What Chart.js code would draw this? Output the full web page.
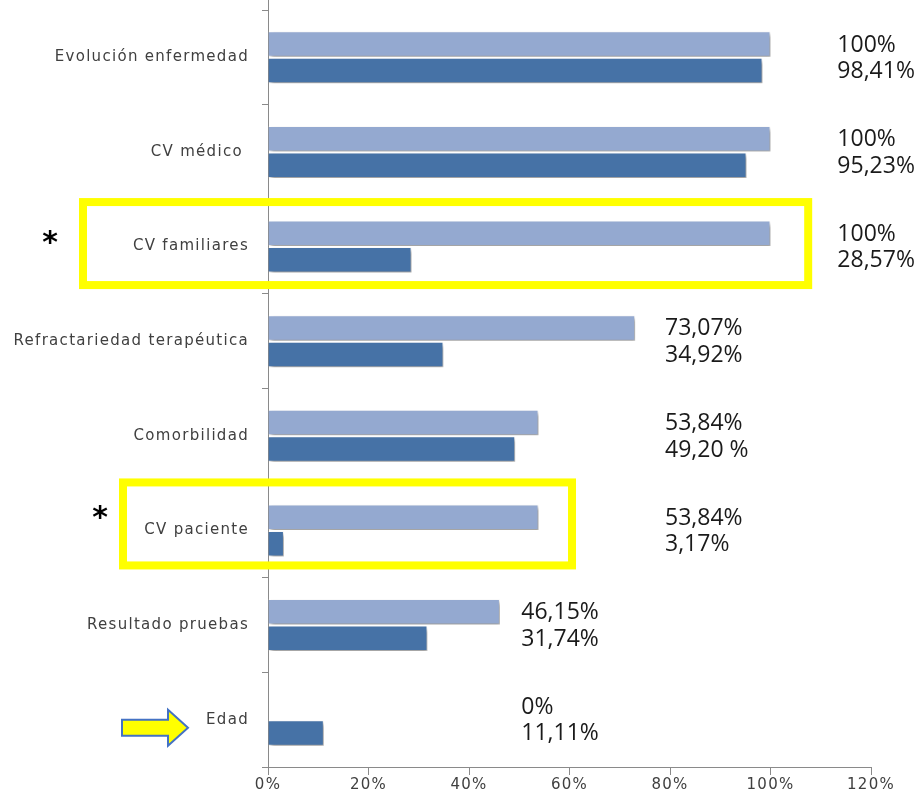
<!DOCTYPE html>
<html>
<head>
    <meta charset="utf-8">
    <title>Factores</title>
    <script src="https://cdn.jsdelivr.net/npm/chart.js"></script>
    <style>
        body { margin: 0; background: #fff; }
        #wrap { width: 918px; height: 798px; }
    </style>
</head>
<body>
    <div id="wrap"><canvas id="barChart"></canvas></div>

    <script>
        // data
        var categories = ["Evolución enfermedad", "CV médico ", "CV familiares", "Refractariedad terapéutica",
                          "Comorbilidad", "CV paciente", "Resultado pruebas", "Edad"];
        var seriesA = [100, 100, 100, 73.07, 53.84, 53.84, 46.15, 0];
        var seriesB = [98.41, 95.23, 28.57, 34.92, 49.20, 3.17, 31.74, 11.11];
        var textA = ["100%", "100%", "100%", "73,07%", "53,84%", "53,84%", "46,15%", "0%"];
        var textB = ["98,41%", "95,23%", "28,57%", "34,92%", "49,20 %", "3,17%", "31,74%", "11,11%"];
        // where each text pair starts, in axis units
        var textAt = [113.3, 113.3, 113.3, 79, 79, 79, 50.4, 50.4];
        var xTicks = [0, 20, 40, 60, 80, 100, 120];

        var lightBlue = "#94a9d0";
        var darkBlue = "#4672a6";
        var axisGrey = "#8a8a8a";

        // yellow boxes: category index, left px, right in axis units, top/bottom offset from category centre
        var boxes = [
            { cat: 2, left: 83, right: 107.5, top: -44.5, bottom: 38.5, star: { x: 50, dy: -8 } },
            { cat: 5, left: 123, right: 60.5, top: -48, bottom: 35, star: { x: 100, dy: -17 } }
        ];

        var extras = {
            id: "extras",
            beforeDraw: function (chart) {
                chart.ctx.letterSpacing = "1.3px";
            },
            beforeDatasetsDraw: function (chart) {
                var ctx = chart.ctx;
                ctx.save();
                ctx.shadowColor = "rgba(0,0,0,0.4)";
                ctx.shadowOffsetX = 2;
                ctx.shadowOffsetY = 3;
                ctx.shadowBlur = 4;
            },
            afterDatasetsDraw: function (chart) {
                chart.ctx.restore();
            },
            afterDraw: function (chart) {
                var ctx = chart.ctx;
                var xs = chart.scales.x, ys = chart.scales.y;
                ctx.save();
                ctx.letterSpacing = "0px";

                // y axis line runs up to the top edge
                ctx.strokeStyle = axisGrey;
                ctx.lineWidth = 1;
                ctx.beginPath();
                ctx.moveTo(chart.chartArea.left + 0.5, 0);
                ctx.lineTo(chart.chartArea.left + 0.5, chart.chartArea.top);
                ctx.stroke();

                // value texts
                ctx.font = "23px 'Open Sans'";
                ctx.fillStyle = "#1a1a1a";
                ctx.textAlign = "left";
                ctx.textBaseline = "middle";
                var metaA = chart.getDatasetMeta(0), metaB = chart.getDatasetMeta(1);
                for (var j = 0; j < categories.length; j++) {
                    var tx = xs.getPixelForValue(textAt[j]);
                    ctx.fillText(textA[j], tx, metaA.data[j].y + 1);
                    ctx.fillText(textB[j], tx, metaB.data[j].y + 1);
                }

                // highlight boxes and asterisks
                boxes.forEach(function (b) {
                    var c = ys.getPixelForValue(b.cat);
                    ctx.strokeStyle = "#ffff00";
                    ctx.lineWidth = 8;
                    ctx.strokeRect(b.left, c + b.top, xs.getPixelForValue(b.right) - b.left, b.bottom - b.top);
                    ctx.fillStyle = "#000";
                    ctx.font = "bold 30px 'DejaVu Sans'";
                    ctx.textAlign = "center";
                    ctx.textBaseline = "middle";
                    ctx.fillText("*", b.star.x, c + b.star.dy + 6);
                });

                // arrow pointing at Edad
                var ce = ys.getPixelForValue(7) + 8;
                ctx.beginPath();
                ctx.moveTo(122, ce - 8);
                ctx.lineTo(168, ce - 8);
                ctx.lineTo(168, ce - 18);
                ctx.lineTo(188, ce);
                ctx.lineTo(168, ce + 18);
                ctx.lineTo(168, ce + 8);
                ctx.lineTo(122, ce + 8);
                ctx.closePath();
                ctx.fillStyle = "#ffff00";
                ctx.fill();
                ctx.strokeStyle = "#4472c4";
                ctx.lineWidth = 2;
                ctx.stroke();
                ctx.restore();
            }
        };

        var ctx = document.getElementById("barChart").getContext("2d");
        var chart = new Chart(ctx, {
            type: "bar",
            data: {
                labels: categories,
                datasets: [{
                    data: seriesA,
                    backgroundColor: lightBlue,
                    borderColor: "rgba(255,255,255,0.4)",
                    borderWidth: 1,
                    categoryPercentage: 0.56,
                    barPercentage: 0.96
                }, {
                    data: seriesB,
                    backgroundColor: darkBlue,
                    borderColor: "rgba(255,255,255,0.35)",
                    borderWidth: 1,
                    categoryPercentage: 0.56,
                    barPercentage: 0.96
                }]
            },
            options: {
                indexAxis: "y",
                responsive: true,
                maintainAspectRatio: false,
                animation: false,
                layout: { autoPadding: false, padding: { top: 10, right: 47, left: 0, bottom: 0 } },
                plugins: { legend: { display: false }, tooltip: { enabled: false } },
                scales: {
                    x: {
                        min: 0,
                        max: 120,
                        afterBuildTicks: function (scale) {
                            scale.ticks = xTicks.map(function (v) { return { value: v }; });
                        },
                        afterFit: function (scale) {
                            scale.height = 31;
                            scale.paddingLeft = 0;
                            scale.paddingRight = 0;
                        },
                        grid: { drawOnChartArea: false, color: axisGrey, tickLength: 8 },
                        border: { color: axisGrey },
                        ticks: {
                            callback: function (v) { return v + "%"; },
                            color: "#404040",
                            font: { family: "DejaVu Sans", size: 15 },
                            padding: 1,
                            maxRotation: 0
                        }
                    },
                    y: {
                        afterFit: function (scale) {
                            scale.width = 268;
                            scale.paddingTop = 0;
                            scale.paddingBottom = 0;
                        },
                        grid: { drawOnChartArea: false, color: axisGrey, tickLength: 6, offset: true },
                        border: { color: axisGrey },
                        ticks: {
                            color: "#404040",
                            font: { family: "DejaVu Sans", size: 15 },
                            padding: 13
                        }
                    }
                }
            },
            plugins: [extras]
        });
    </script>
</body>
</html>
